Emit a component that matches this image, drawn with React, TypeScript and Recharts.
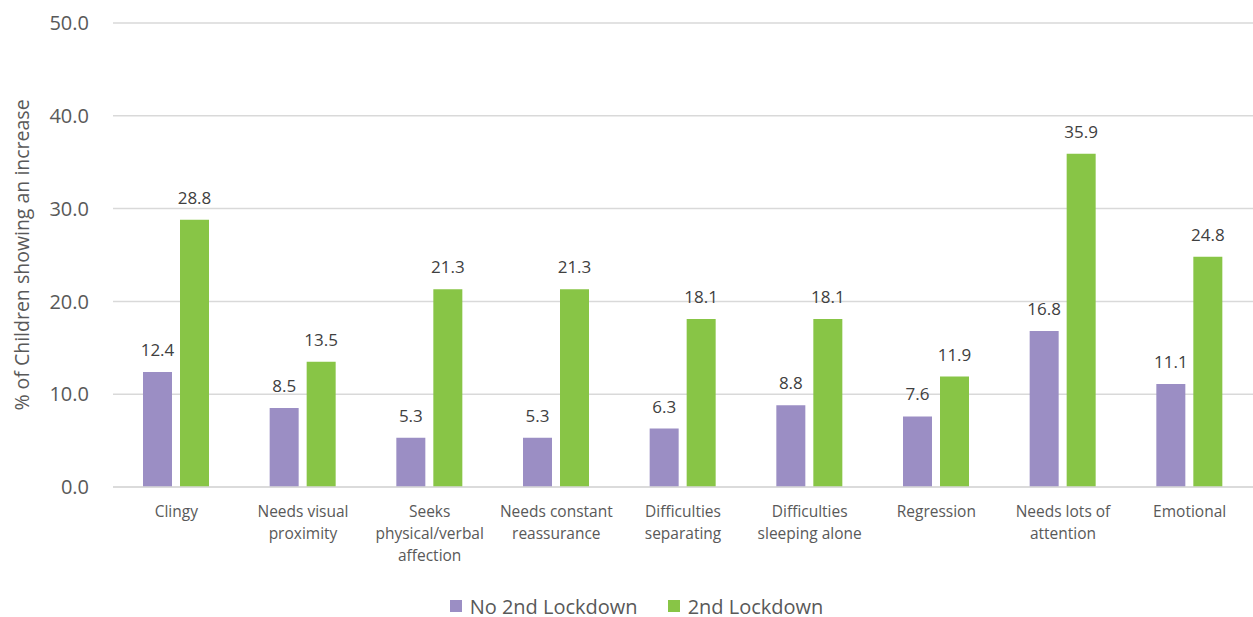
import React from 'react';
import { BarChart, Bar, XAxis, YAxis, CartesianGrid, Legend, LabelList, Label } from 'recharts';

const CATEGORIES = [
  'Clingy',
  'Needs visual\nproximity',
  'Seeks\nphysical/verbal\naffection',
  'Needs constant\nreassurance',
  'Difficulties\nseparating',
  'Difficulties\nsleeping alone',
  'Regression',
  'Needs lots of\nattention',
  'Emotional',
];
const NO_SECOND = [12.4, 8.5, 5.3, 5.3, 6.3, 8.8, 7.6, 16.8, 11.1];
const SECOND = [28.8, 13.5, 21.3, 21.3, 18.1, 18.1, 11.9, 35.9, 24.8];
const Y_TICKS = [0, 10, 20, 30, 40, 50];

const PURPLE = '#9B8EC4';
const GREEN = '#88C546';
const FONT = '"Open Sans", sans-serif';

const data = CATEGORIES.map((c, i) => ({ name: c, noSecond: NO_SECOND[i], second: SECOND[i] }));

const CategoryTick = (props: any) => {
  const { x, y, payload } = props;
  const lines = String(payload.value).split('\n');
  return (
    <text x={x} y={y} textAnchor="middle" fill="#595959" fontSize={15.5} fontFamily={FONT}>
      {lines.map((l, i) => (
        <tspan key={i} x={x} dy={i === 0 ? 28 : 22}>{l}</tspan>
      ))}
    </text>
  );
};

const LegendContent = () => (
  <div style={{ display: 'flex', justifyContent: 'center', gap: 30, fontFamily: FONT, fontSize: 20, color: '#595959', height: 28, paddingLeft: 20 }}>
    <span style={{ display: 'flex', alignItems: 'center' }}>
      <span style={{ width: 12, height: 12, background: PURPLE, marginRight: 8, display: 'inline-block' }} />
      No 2nd Lockdown
    </span>
    <span style={{ display: 'flex', alignItems: 'center' }}>
      <span style={{ width: 12, height: 12, background: GREEN, marginRight: 8, display: 'inline-block' }} />
      2nd Lockdown
    </span>
  </div>
);

export default function App() {
  return (
    <div style={{ position: 'absolute', left: 0, top: 0, background: '#fff' }}>
      <BarChart
        width={1253}
        height={617}
        data={data}
        margin={{ top: 23, right: 0, bottom: 101, left: 0 }}
        barSize={29}
        barGap={8}
      >
        <CartesianGrid vertical={false} stroke="#D9D9D9" strokeWidth={1.5} />
        <XAxis
          dataKey="name"
          height={1}
          axisLine={{ stroke: '#D9D9D9', strokeWidth: 1.5 }}
          tickLine={false}
          tick={<CategoryTick />}
          interval={0}
          tickSize={0}
        />
        <YAxis
          width={113}
          domain={[0, 50]}
          ticks={Y_TICKS}
          axisLine={false}
          tickLine={false}
          tickSize={0}
          tickMargin={24}
          tickFormatter={(v: number) => v.toFixed(1)}
          tick={{ fill: '#595959', fontSize: 20, fontFamily: FONT }}
        >
          <Label
            value="% of Children showing an increase"
            angle={-90}
            position="insideLeft"
            offset={22}
            style={{ textAnchor: 'middle', fill: '#595959', fontSize: 19.5, fontFamily: FONT }}
          />
        </YAxis>
        <Legend
          verticalAlign="bottom"
          content={<LegendContent />}
          wrapperStyle={{ top: 592, bottom: 'auto' }}
        />
        <Bar dataKey="noSecond" fill={PURPLE} isAnimationActive={false}>
          <LabelList dataKey="noSecond" position="top" offset={16} formatter={(v: number) => v.toFixed(1)}
            style={{ fill: '#404040', fontSize: 17, fontFamily: FONT }} />
        </Bar>
        <Bar dataKey="second" fill={GREEN} isAnimationActive={false}>
          <LabelList dataKey="second" position="top" offset={16} formatter={(v: number) => v.toFixed(1)}
            style={{ fill: '#404040', fontSize: 17, fontFamily: FONT }} />
        </Bar>
      </BarChart>
    </div>
  );
}
